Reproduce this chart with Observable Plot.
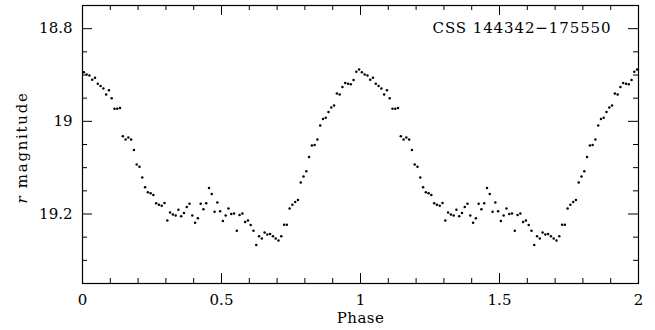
<!DOCTYPE html>
<html>
<head>
<meta charset="utf-8">
<script src="https://cdn.jsdelivr.net/npm/d3@7"></script>
<script src="https://cdn.jsdelivr.net/npm/@observablehq/plot@0.6"></script>
<style>
  html, body { margin: 0; padding: 0; background: #fff; }
  #chart { width: 655px; height: 330px; }
</style>
</head>
<body>
<div id="chart"></div>
<script>
// ---- data ----
const phases = [
  0.005, 0.015, 0.025, 0.035, 0.045, 0.055, 0.065, 0.075, 0.085, 0.095,
  0.105, 0.115, 0.125, 0.135, 0.145, 0.155, 0.165, 0.175, 0.185, 0.195,
  0.205, 0.215, 0.225, 0.235, 0.245, 0.255, 0.265, 0.275, 0.285, 0.295,
  0.305, 0.315, 0.325, 0.335, 0.345, 0.355, 0.365, 0.375, 0.385, 0.395,
  0.405, 0.415, 0.425, 0.435, 0.445, 0.455, 0.465, 0.475, 0.485, 0.495,
  0.505, 0.515, 0.525, 0.535, 0.545, 0.555, 0.565, 0.575, 0.585, 0.595,
  0.605, 0.615, 0.625, 0.635, 0.645, 0.655, 0.665, 0.675, 0.685, 0.695,
  0.705, 0.715, 0.725, 0.735, 0.745, 0.755, 0.765, 0.775, 0.785, 0.795,
  0.805, 0.815, 0.825, 0.835, 0.845, 0.855, 0.865, 0.875, 0.885, 0.895,
  0.905, 0.915, 0.925, 0.935, 0.945, 0.955, 0.965, 0.975, 0.985, 0.995
];
const magnitudes = [
  18.894, 18.899, 18.901, 18.910, 18.906, 18.919, 18.924, 18.929, 18.942, 18.933,
  18.950, 18.973, 18.973, 18.971, 19.032, 19.039, 19.035, 19.039, 19.062, 19.093,
  19.098, 19.121, 19.142, 19.153, 19.155, 19.159, 19.177, 19.180, 19.182, 19.176,
  19.214, 19.197, 19.201, 19.203, 19.191, 19.205, 19.198, 19.185, 19.178, 19.203,
  19.219, 19.209, 19.178, 19.190, 19.177, 19.144, 19.157, 19.195, 19.175, 19.194,
  19.215, 19.203, 19.188, 19.200, 19.199, 19.236, 19.202, 19.199, 19.217, 19.214,
  19.224, 19.236, 19.267, 19.248, 19.253, 19.240, 19.244, 19.243, 19.248, 19.253,
  19.257, 19.248, 19.223, 19.223, 19.188, 19.180, 19.174, 19.170, 19.132, 19.119,
  19.108, 19.077, 19.052, 19.051, 19.039, 19.009, 18.995, 18.992, 18.980, 18.970,
  18.966, 18.940, 18.942, 18.926, 18.917, 18.919, 18.920, 18.911, 18.893, 18.888
];
const cycles = [0, 1];  // the light curve is shown twice

const xTicks = [0, 0.5, 1, 1.5, 2];
const xTickLabels = ["0", "0.5", "1", "1.5", "2"];
const xMinorTicks = [0.1, 0.2, 0.3, 0.4, 0.6, 0.7, 0.8, 0.9, 1.1, 1.2, 1.3, 1.4, 1.6, 1.7, 1.8, 1.9];
const yTicks = [18.8, 19, 19.2];
const yTickLabels = ["18.8", "19", "19.2"];
const yMinorTicks = [18.85, 18.9, 18.95, 19.05, 19.1, 19.15, 19.25, 19.3];
const xDomain = [0, 2];
const yDomain = [18.75, 19.35];

const titleText = "CSS 144342\u2212175550";
const xLabel = "Phase";
const yLabelItalic = "r";
const yLabelRest = " magnitude";

// ---- build table ----
const points = [];
for (const c of cycles) {
  phases.forEach((p, i) => points.push({phase: p + c, mag: magnitudes[i]}));
}

// ---- layout ----
const W = 655, H = 330;
const mL = 82, mR = 17, mT = 5, mB = 47;
const innerW = W - mL - mR, innerH = H - mT - mB;
const majorLen = 10, minorLen = 5;

const chart = Plot.plot({
  width: W, height: H,
  marginLeft: mL, marginRight: mR, marginTop: mT, marginBottom: mB,
  style: {fontFamily: "DejaVu Serif", fontSize: "15px", color: "black", background: "white"},
  x: {domain: xDomain},
  y: {domain: yDomain, reverse: true},
  marks: [
    Plot.frame({stroke: "black", strokeWidth: 1.2}),
    // inward ticks, bottom & top
    Plot.tickX(xTicks, {x: d => d, insetTop: innerH - majorLen, stroke: "black"}),
    Plot.tickX(xMinorTicks, {x: d => d, insetTop: innerH - minorLen, stroke: "black"}),
    Plot.tickX(xTicks, {x: d => d, insetBottom: innerH - majorLen, stroke: "black"}),
    Plot.tickX(xMinorTicks, {x: d => d, insetBottom: innerH - minorLen, stroke: "black"}),
    // inward ticks, left & right
    Plot.tickY(yTicks, {y: d => d, insetRight: innerW - majorLen, stroke: "black"}),
    Plot.tickY(yMinorTicks, {y: d => d, insetRight: innerW - minorLen, stroke: "black"}),
    Plot.tickY(yTicks, {y: d => d, insetLeft: innerW - majorLen, stroke: "black"}),
    Plot.tickY(yMinorTicks, {y: d => d, insetLeft: innerW - minorLen, stroke: "black"}),
    Plot.axisX({ticks: xTicks, tickSize: 0, tickPadding: 11, label: null,
      tickFormat: d => xTickLabels[xTicks.indexOf(d)]}),
    Plot.axisY({ticks: yTicks, tickSize: 0, tickPadding: 10, label: null,
      tickFormat: d => yTickLabels[yTicks.indexOf(d)]}),
    Plot.dot(points, {x: "phase", y: "mag", r: 1.25, fill: "black", stroke: null}),
    Plot.text([titleText], {frameAnchor: "top-right", textAnchor: "end", lineAnchor: "middle",
      dx: -27, dy: 23, fontSize: 15, fill: "black"}),
    Plot.text([xLabel], {frameAnchor: "bottom", textAnchor: "middle", lineAnchor: "middle",
      dy: 35, fontSize: 15, fill: "black"}),
    Plot.text([yLabelItalic + yLabelRest], {frameAnchor: "left", rotate: -90, textAnchor: "middle",
      lineAnchor: "middle", dx: -60, dy: 3, fontSize: 15, fill: "black"})
  ]
});

// styling touches: letter spacing & italic r
const svg = d3.select(chart);
svg.selectAll("text").each(function() {
  const t = this.textContent;
  if (t === titleText) this.setAttribute("letter-spacing", "0.9");
  else if (t === xLabel) this.setAttribute("letter-spacing", "0.45");
  else if (t === yLabelItalic + yLabelRest) {
    this.textContent = "";
    d3.select(this).attr("letter-spacing", "1.7");
    d3.select(this).append("tspan").attr("font-style", "italic").text(yLabelItalic);
    d3.select(this).append("tspan").text(yLabelRest);
  }
});

document.getElementById("chart").appendChild(chart);
</script>
</body>
</html>
